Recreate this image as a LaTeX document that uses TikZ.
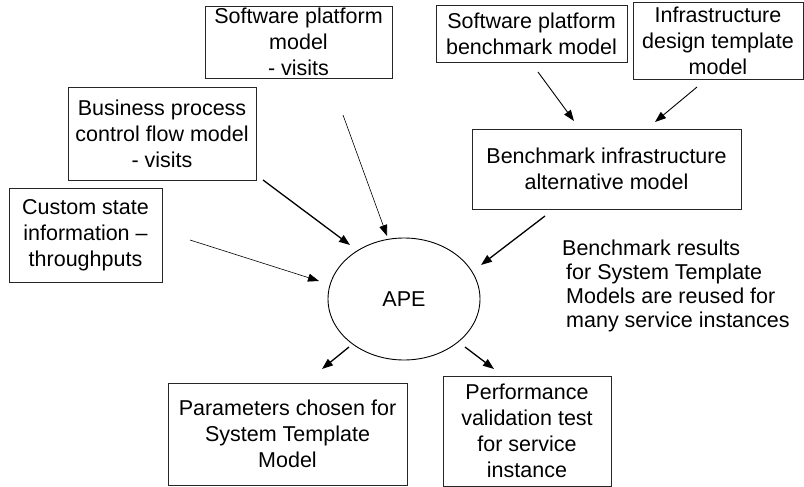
\documentclass[tikz,border=0pt]{standalone}
\usepackage{fontspec}
\setmainfont{Liberation Sans}
\usetikzlibrary{arrows.meta,shapes.geometric}
\tikzset{
  box/.style={draw=black!85, line width=0.9pt, inner sep=0pt, align=center,
    font=\fontsize{21.5}{26}\selectfont},
  thinarr/.style={line width=0.6pt, -{Triangle[length=11pt,width=8pt]}},
  thickarr/.style={line width=1.3pt, -{Triangle[length=11pt,width=8pt]}},
}
\begin{document}
\begin{tikzpicture}[x=1pt,y=-1pt]
\useasboundingbox (0,0) rectangle (804,487);
% boxes
\node[box, minimum width=187, minimum height=72] (sw) at (298.5,42) {Software platform\\model\\- visits};
\node[box, minimum width=188, minimum height=93] (bp) at (162,133.5) {Business process\\control flow model\\- visits};
\node[box, minimum width=153, minimum height=94] (cs) at (85.5,235) {Custom state\\information --\\throughputs};
\node[box, minimum width=191, minimum height=57] (sb) at (531.5,33.5) {Software platform\\benchmark model};
\node[box, minimum width=170, minimum height=77] (id) at (718,40.5) {Infrastructure\\design template\\model};
\node[box, minimum width=269, minimum height=80] (bi) at (606.5,169) {Benchmark infrastructure\\alternative model};
\node[draw=black, line width=0.9pt, ellipse, minimum width=152, minimum height=122, inner sep=0pt,
  font=\fontsize{21.5}{26}\selectfont] (ape) at (404,299) {APE};
\node[box, minimum width=239, minimum height=102] (par) at (287.5,434) {Parameters chosen for\\System Template\\Model};
\node[box, minimum width=168, minimum height=110] (perf) at (527,431) {Performance\\validation test\\for service\\instance};
\node[anchor=north west, inner sep=0pt, align=left, font=\fontsize{21.5}{24}\selectfont] (note) at (562,240)
  {Benchmark results\\\hspace*{4pt}for System Template\\\hspace*{4pt}Models are reused for\\\hspace*{4pt}many service instances};
% arrow end points
\coordinate (sw-a) at (343,115);  \coordinate (sw-b) at (387,236);
\coordinate (bp-a) at (263,180);  \coordinate (bp-b) at (350,245);
\coordinate (cs-a) at (190,240);  \coordinate (cs-b) at (319,281);
\coordinate (bi-a) at (545,216);  \coordinate (bi-b) at (481,265);
\coordinate (sb-a) at (538,72);   \coordinate (sb-b) at (574,121);
\coordinate (id-a) at (697,87);   \coordinate (id-b) at (655,122);
\coordinate (par-a) at (349,347); \coordinate (par-b) at (322,369);
\coordinate (perf-a) at (465,347);\coordinate (perf-b) at (494,369);
% arrows
\draw[thinarr] (sw-a) -- (sw-b);
\draw[thickarr] (bp-a) -- (bp-b);
\draw[thinarr] (cs-a) -- (cs-b);
\draw[thickarr] (bi-a) -- (bi-b);
\draw[line width=0.9pt, -{Triangle[length=11pt,width=8pt]}] (sb-a) -- (sb-b);
\draw[line width=0.9pt, -{Triangle[length=11pt,width=8pt]}] (id-a) -- (id-b);
\draw[thickarr] (par-a) -- (par-b);
\draw[thickarr] (perf-a) -- (perf-b);
\end{tikzpicture}
\end{document}
